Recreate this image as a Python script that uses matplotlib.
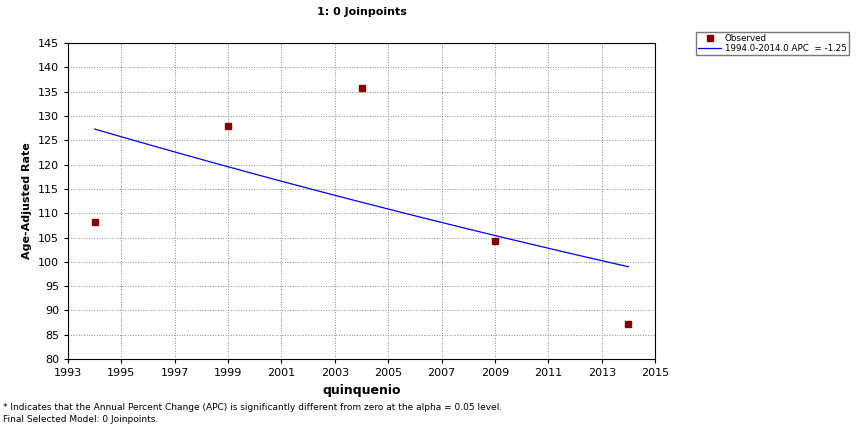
import matplotlib
matplotlib.use('Agg')
import matplotlib.pyplot as plt
import numpy as np

# observed values
years = [1994, 1999, 2004, 2009, 2014]
rates = [108.2, 128.0, 135.8, 104.2, 87.2]

# fitted model: start value and annual percent change
fit_start_year = 1994
fit_end_year = 2014
fit_start_val = 127.3
apc = -1.25

fig = plt.figure(figsize=(8.66, 4.25), dpi=100)
ax = fig.add_axes([0.0785, 0.155, 0.678, 0.744])

fx = np.linspace(fit_start_year, fit_end_year, 50)
fy = fit_start_val * (1 + apc / 100) ** (fx - fit_start_year)
ax.plot(fx, fy, color='#0000ff', lw=0.9, label='1994.0-2014.0 APC  = -1.25')
ax.plot(years, rates, 's', color='#8b0000', ms=4, ls='none', label='Observed')

ax.set_xlim(1993, 2015)
ax.set_ylim(80, 145)
ax.set_xticks(range(1993, 2016, 2))
ax.set_yticks(range(80, 146, 5))
ax.tick_params(labelsize=8, length=3)
ax.grid(True, ls=':', color='#888888', lw=0.7)
ax.set_xlabel('quinquenio', fontsize=9, fontweight='bold')
ax.set_ylabel('Age-Adjusted Rate', fontsize=8, fontweight='bold')
ax.set_title('1: 0 Joinpoints', fontsize=8, fontweight='bold', pad=20)

h, l = ax.get_legend_handles_labels()
leg = fig.legend(h[::-1], l[::-1], loc='upper left', bbox_to_anchor=(0.804, 0.925),
                 fontsize=6.3, frameon=True, fancybox=False, edgecolor='#555555',
                 handlelength=2.6, handletextpad=0.4, borderpad=0.25, labelspacing=0.1,
                 borderaxespad=0)

fig.text(0.003, 0.035, '* Indicates that the Annual Percent Change (APC) is significantly different from zero at the alpha = 0.05 level.',
         fontsize=6.5)
fig.text(0.003, 0.008, 'Final Selected Model: 0 Joinpoints.', fontsize=6.5)

fig.savefig('out.png', dpi=100)
plt.close(fig)
